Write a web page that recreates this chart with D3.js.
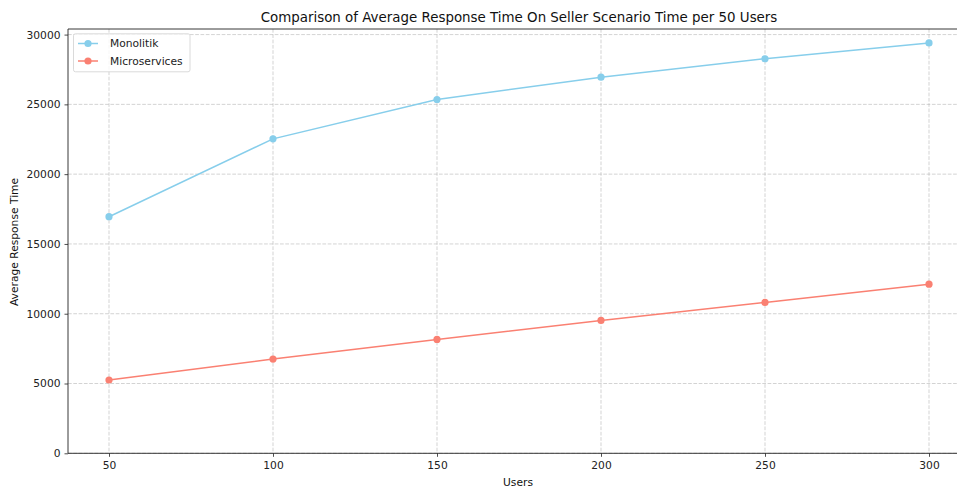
<!DOCTYPE html>
<html><head><meta charset="utf-8">
<script src="https://cdn.jsdelivr.net/npm/d3@7"></script>
<style>body{margin:0;background:#fff}svg{display:block;font-family:"DejaVu Sans",sans-serif}</style>
</head><body><svg id="c" width="957" height="488"></svg>
<script>
const users = [50, 100, 150, 200, 250, 300];
const monolitik = [16950, 22530, 25350, 26950, 28270, 29400];
const microservices = [5250, 6750, 8160, 9520, 10810, 12120];
const yTicks = [0, 5000, 10000, 15000, 20000, 25000, 30000];
const seriesNames = ["Monolitik", "Microservices"];
const colors = ["#87CEEB", "#FA8072"];

const svg = d3.select("#c");
const L = 68, R = 970, T = 29, B = 453.3;
const FS = 10.7;
const x = d3.scaleLinear().domain([37.5, 312.5]).range([L, R]);
const y = d3.scaleLinear().domain([0, 30400]).range([B, T]);

// grid
const g = svg.append("g");
g.selectAll(".gx").data(users).enter().append("line")
  .attr("x1", d => x(d)).attr("x2", d => x(d)).attr("y1", T).attr("y2", B)
  .attr("stroke", "#b0b0b0").attr("stroke-opacity", 0.7).attr("stroke-dasharray", "3.7,1.6").attr("stroke-width", 0.8);
g.selectAll(".gy").data(yTicks).enter().append("line")
  .attr("y1", d => y(d)).attr("y2", d => y(d)).attr("x1", L).attr("x2", R)
  .attr("stroke", "#b0b0b0").attr("stroke-opacity", 0.7).attr("stroke-dasharray", "3.7,1.6").attr("stroke-width", 0.8);

// axes
const xa = svg.append("g").attr("transform", `translate(0,${B})`)
  .call(d3.axisBottom(x).tickValues(users).tickSize(3.5).tickPadding(4.5).tickFormat(d3.format("d")));
const ya = svg.append("g").attr("transform", `translate(${L},0)`)
  .call(d3.axisLeft(y).tickValues(yTicks).tickSize(3.5).tickPadding(4).tickFormat(d3.format("d")));
[xa, ya].forEach(a => {
  a.select(".domain").remove();
  a.selectAll("text").attr("font-size", FS).attr("fill", "#222").attr("font-family", "DejaVu Sans");
  a.selectAll("line").attr("stroke", "#222").attr("stroke-width", 0.8);
});
// spines
svg.append("line").attr("x1", L).attr("x2", L).attr("y1", T).attr("y2", B).attr("stroke", "#222").attr("stroke-width", 0.9);
svg.append("line").attr("x1", L).attr("x2", R).attr("y1", B).attr("y2", B).attr("stroke", "#222").attr("stroke-width", 0.9);
svg.append("line").attr("x1", L).attr("x2", R).attr("y1", T).attr("y2", T).attr("stroke", "#222").attr("stroke-width", 0.9);

// series
const data = [monolitik, microservices];
const line = d3.line().x((d, i) => x(users[i])).y(d => y(d));
data.forEach((s, k) => {
  svg.append("path").datum(s).attr("d", line).attr("fill", "none")
    .attr("stroke", colors[k]).attr("stroke-width", 1.5);
  svg.selectAll(".p" + k).data(s).enter().append("circle")
    .attr("cx", (d, i) => x(users[i])).attr("cy", d => y(d)).attr("r", 3.6).attr("fill", colors[k]);
});

// title & labels
svg.append("text").attr("x", 519).attr("y", 22).attr("text-anchor", "middle")
  .attr("font-size", 13.4).attr("fill", "#111").text("Comparison of Average Response Time On Seller Scenario Time per 50 Users");
svg.append("text").attr("x", 518).attr("y", 486).attr("text-anchor", "middle")
  .attr("font-size", FS).attr("fill", "#111").text("Users");
svg.append("text").attr("transform", "translate(17.5,242) rotate(-90)").attr("text-anchor", "middle")
  .attr("font-size", FS).attr("fill", "#111").text("Average Response Time");

// legend
const lg = svg.append("g");
lg.append("rect").attr("x", 73.5).attr("y", 33.8).attr("width", 116.5).attr("height", 38).attr("rx", 2)
  .attr("fill", "#fff").attr("fill-opacity", 0.8).attr("stroke", "#d6d6d6").attr("stroke-width", 0.9);
seriesNames.forEach((n, k) => {
  const yy = 43.5 + k * 17.5;
  lg.append("line").attr("x1", 78).attr("x2", 98).attr("y1", yy).attr("y2", yy).attr("stroke", colors[k]).attr("stroke-width", 1.5);
  lg.append("circle").attr("cx", 88).attr("cy", yy).attr("r", 3.6).attr("fill", colors[k]);
  lg.append("text").attr("x", 110).attr("y", yy + 3.9).attr("font-size", FS).attr("fill", "#222").text(n);
});
</script></body></html>
